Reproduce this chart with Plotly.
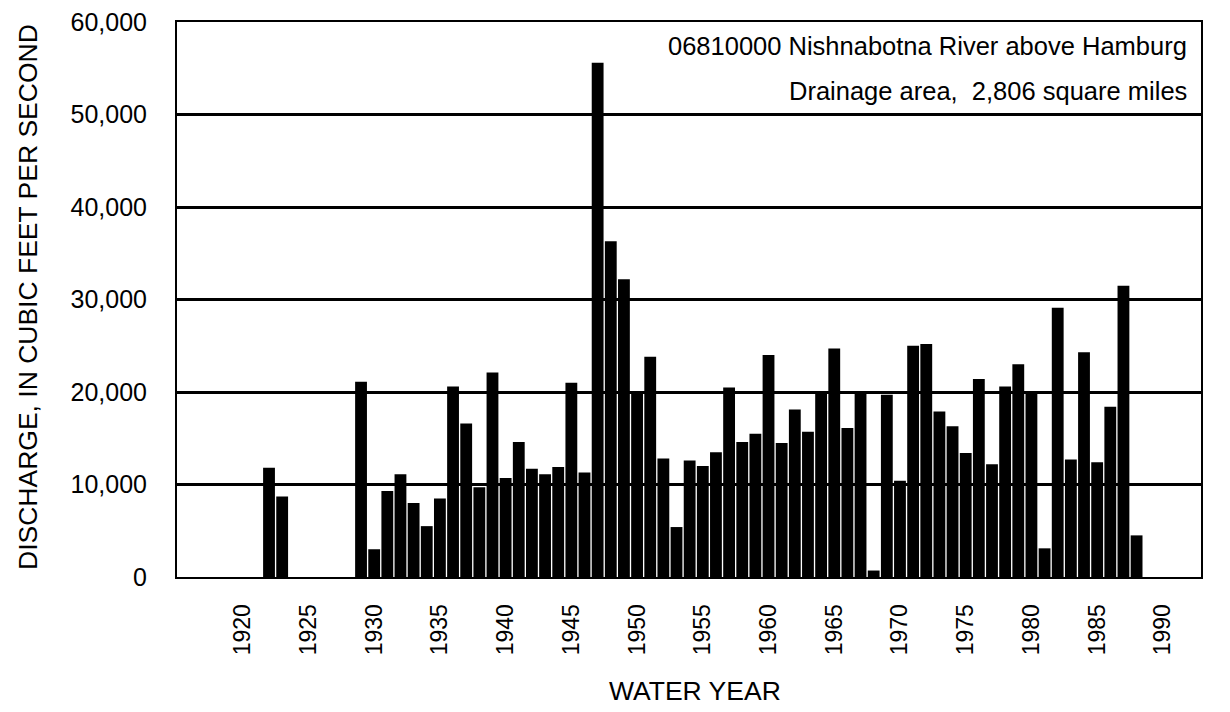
import plotly.graph_objects as go

years = [1922, 1923] + list(range(1929, 1989))
discharge = [
    11800, 8700,
    21100, 3000, 9300, 11100, 8000, 5500, 8500, 20600, 16600, 9700,
    22100, 10700, 14600, 11700, 11100, 11900, 21000, 11300, 55600, 36300,
    32200, 20100, 23800, 12800, 5400, 12600, 12000, 13500, 20500, 14600,
    15500, 24000, 14500, 18100, 15700, 20100, 24700, 16100, 20000, 700,
    19700, 10400, 25000, 25200, 17900, 16300, 13400, 21400, 12200, 20600,
    23000, 20100, 3100, 29100, 12700, 24300, 12400, 18400, 31500, 4500,
]
x_ticks = list(range(1920, 1995, 5))
y_ticks = [0, 10000, 20000, 30000, 40000, 50000, 60000]
y_tick_text = ["0", "10,000", "20,000", "30,000", "40,000", "50,000", "60,000"]

FONT = "Liberation Sans, Arial, Helvetica, sans-serif"

# page has an 8px body margin; figure placed at (8, 8)
OFF = 8
W, H = 1230 - OFF, 712 - OFF
PL, PR, PT, PB = 177, 1201, 22, 577  # plot box in page pixels
ml, mt = PL - OFF, PT - OFF
mr = W - (PR - OFF)
mb = H - (PB - OFF)
pw, ph = PR - PL, PB - PT


def px(xp):
    return (xp - PL) / pw


def py(yp):
    return (PB - yp) / ph


fig = go.Figure()
fig.add_trace(go.Bar(x=years, y=discharge, marker=dict(color="black", line=dict(width=0)),
                     width=0.9, showlegend=False))

fig.update_layout(
    width=W, height=H,
    margin=dict(l=ml, r=mr, t=mt, b=mb, autoexpand=False),
    paper_bgcolor="white", plot_bgcolor="white",
    font=dict(family=FONT, size=24, color="black"),
    xaxis=dict(
        range=[1915, 1992.9], tickmode="array", tickvals=x_ticks,
        ticktext=[str(v) for v in x_ticks], tickangle=-90,
        showgrid=False, zeroline=False, showline=True, linecolor="black",
        linewidth=2, mirror=True, ticks="", ticklabelstandoff=16,
        ticklabeloverflow="allow", automargin=False, tickfont=dict(size=23),
    ),
    yaxis=dict(
        range=[0, 60000], tickmode="array", tickvals=y_ticks, ticktext=y_tick_text,
        showgrid=True, gridcolor="black", gridwidth=2.5, zeroline=False,
        showline=True, linecolor="black", linewidth=2, mirror=True, ticks="",
        ticklabelstandoff=23, ticklabeloverflow="allow", automargin=False,
        tickfont=dict(size=25),
    ),
    annotations=[
        dict(text="06810000 Nishnabotna River above Hamburg", xref="paper", yref="paper",
             x=px(1189), y=py(46), xanchor="right", yanchor="middle",
             showarrow=False, font=dict(size=25.5)),
        dict(text="Drainage area,&nbsp; 2,806 square miles", xref="paper", yref="paper",
             x=px(1189), y=py(91), xanchor="right", yanchor="middle",
             showarrow=False, font=dict(size=25.5)),
        dict(text="DISCHARGE, IN CUBIC FEET PER SECOND", xref="paper", yref="paper",
             x=px(28), y=py(297), textangle=-90, xanchor="center", yanchor="middle",
             showarrow=False, font=dict(size=26.5)),
        dict(text="WATER YEAR", xref="paper", yref="paper",
             x=px(695), y=py(691), xanchor="center", yanchor="middle",
             showarrow=False, font=dict(size=26.5)),
    ],
)

fig.write_html("out.html")
